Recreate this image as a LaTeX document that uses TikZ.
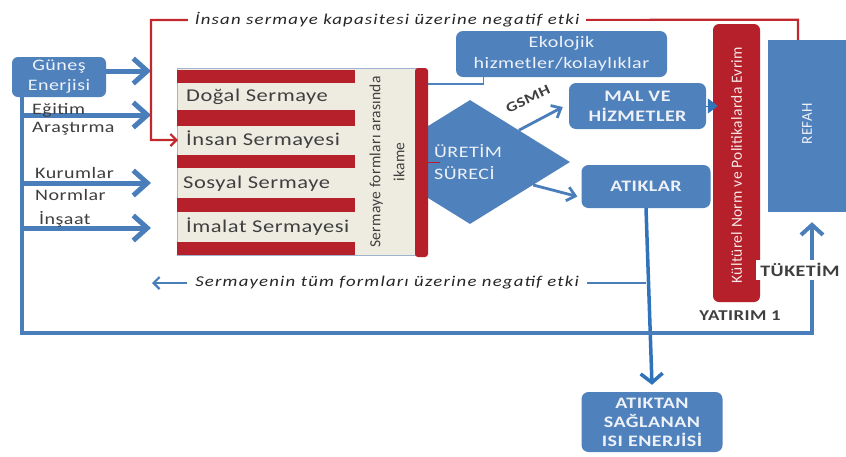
\documentclass[tikz,border=0pt]{standalone}
\usepackage{fontspec}
\setmainfont{Carlito}[FakeStretch=1.25,LetterSpace=3]
\newfontfamily\rotfont{Carlito}[LetterSpace=2]
\newfontfamily\notefont{Carlito}[FakeStretch=1.25,LetterSpace=8]
\usetikzlibrary{arrows.meta,shapes.geometric}
\definecolor{boxblue}{HTML}{4F81BD}
\definecolor{arrowblue}{HTML}{4A7EBB}
\definecolor{brightblue}{HTML}{2F74BB}
\definecolor{stackred}{HTML}{B5202A}
\definecolor{linered}{HTML}{C0282D}
\definecolor{beige}{HTML}{EEECE1}
\definecolor{stackborder}{HTML}{9FB3CF}
\definecolor{darktext}{HTML}{3F3F3F}
\definecolor{boxtext}{HTML}{EEF2F8}
\definecolor{kulturtext}{HTML}{F7E8E8}
\newcommand\fsz[2]{\fontsize{#1}{#2}\selectfont}
\begin{document}
\begin{tikzpicture}[x=1pt,y=-1pt,
  bluebox/.style={fill=boxblue, rounded corners=7pt, draw=none, text=boxtext, align=center, inner sep=0pt},
  lbl/.style={text=darktext, inner sep=0pt, anchor=west, font=\fsz{16}{19}},
  rowlbl/.style={text=darktext, inner sep=0pt, anchor=west, font=\fsz{18}{20}},
  bigarrow/.style={draw=arrowblue, line width=5pt, -{Straight Barb[length=14pt,width=25pt]}},
  loopline/.style={draw=arrowblue, line width=4pt, -{Straight Barb[length=10pt,width=22pt]}},
  redconn/.style={draw=linered, line width=2.2pt, -{Straight Barb[length=6pt,width=12pt]}},
  thinarrow/.style={draw=arrowblue, line width=2.2pt, -{Straight Barb[length=6pt,width=12pt]}},
  thinline/.style={draw=boxblue, line width=1.3pt},
  wastearrow/.style={draw=brightblue, line width=3.5pt, -{Straight Barb[length=9pt,width=22pt]}},
  midarrow/.style={draw=arrowblue, line width=2.8pt, -{Straight Barb[length=8pt,width=14pt]}}
]
\useasboundingbox (0,0) rectangle (846,456);
\fill[white] (0,0) rectangle (846,456);

% helper coordinates
\coordinate (rc) at (151,20);
\coordinate (bot) at (812,333);
\coordinate (e1) at (20,115);
\coordinate (e2) at (20,183);
\coordinate (e3) at (20,228);
\coordinate (negstart) at (646,283);
\coordinate (negend) at (152,283);

% production diamond
\node[diamond, fill=boxblue, minimum width=200pt, minimum height=124pt, inner sep=0pt] (uretim) at (470,162) {};

% capital stack
\node[draw=stackborder, fill=beige, line width=0.8pt, minimum width=241pt, minimum height=187pt, inner sep=0pt, anchor=north west] (stack) at (177,68) {};
\fill[stackred] (177,70) rectangle (355,83);
\fill[stackred] (177,110) rectangle (355,126);
\fill[stackred] (177,155) rectangle (355,168);
\fill[stackred] (177,198) rectangle (355,212);
\fill[stackred] (177,242) rectangle (355,255);
\node[fill=stackred, rounded corners=3pt, minimum width=13pt, minimum height=189pt, inner sep=0pt] (ikamebar) at (421.5,162.5) {};
\draw[draw=stackred, line width=1.5pt] (ikamebar.east) -- ++(12,0);

\node[rowlbl] (dogal) at (186,97) {Doğal Sermaye};
\node[rowlbl] (insan) at (186,140) {İnsan Sermayesi};
\node[rowlbl] (sosyal) at (183,184) {Sosyal Sermaye};
\node[rowlbl] (imalat) at (186,227) {İmalat Sermayesi};
\node[rotate=90, align=center, text=darktext, inner sep=0pt, font=\rotfont\fsz{15.5}{24}] (ikame) at (387,162) {Sermaye formları arasında\\ikame};

% boxes
\node[bluebox, minimum width=94pt, minimum height=40pt, rounded corners=6pt, font=\fsz{16}{20}] (gunes) at (59,77) {Güneş\\Enerjisi};
\node[bluebox, minimum width=211pt, minimum height=46pt, font=\fsz{16}{21}] (ekolojik) at (561.5,54) {Ekolojik\\hizmetler/kolaylıklar};
\node[bluebox, minimum width=137pt, minimum height=46pt, font=\bfseries\fsz{16}{20}] (mal) at (637.5,106) {MAL VE\\HİZMETLER};
\node[bluebox, minimum width=129pt, minimum height=43pt, font=\bfseries\fsz{16}{20}] (atiklar) at (646,186.5) {ATIKLAR};
\node[bluebox, minimum width=141pt, minimum height=60pt, font=\bfseries\fsz{16}{19}] (atiktan) at (652,422) {ATIKTAN\\SAĞLANAN\\ISI ENERJİSİ};
\node[fill=boxblue, draw=none, inner sep=0pt, minimum width=78pt, minimum height=172pt] (refah) at (807,126) {};
\node[rotate=90, text=boxtext, inner sep=0pt, font=\rotfont\fsz{15}{18}] (refahtext) at (807,124) {REFAH};

% production text
\node[align=left, text=boxtext, inner sep=0pt, font=\fsz{16}{22}] (uretimtext) at (468,162) {ÜRETİM\\SÜRECİ};
\node[rotate=25, text=darktext, inner sep=0pt, font=\bfseries\fsz{14}{16}] (gsmh) at (528,99) {GSMH};

% connectors from production
\draw[midarrow] (uretim.33) -- ([xshift=-6pt,yshift=-1pt]mal.west);
\draw[midarrow] (uretim.-20) -- ([xshift=-4pt,yshift=-10pt]atiklar.west);
\draw[thinline] ([xshift=-78pt]ekolojik.south) |- ([yshift=78.5pt]ikamebar.east);

% waste line
\draw[wastearrow] (atiklar.south) -- ([yshift=7pt]atiktan.north);

% cultural bar
\node[fill=stackred, draw=none, rounded corners=6pt, minimum width=47pt, minimum height=278pt, inner sep=0pt] (kultur) at (736.5,163) {};
\node[rotate=90, text=kulturtext, inner sep=0pt, font=\rotfont\fsz{15.5}{18}] (kulturtext) at (736.5,165) {Kültürel Norm ve Politikalarda Evrim};
\draw[draw=brightblue, line width=1pt, -{Triangle[length=10pt,width=15pt]}] (mal.east) -- ([xshift=5pt]kultur.west |- mal.east);

% loop line
\draw[loopline] ([xshift=10pt]gunes.south west) |- (bot) -- ([xshift=5pt,yshift=-10pt]refah.south);
\node[fill=white, text=darktext, inner xsep=4pt, inner ysep=3pt, font=\bfseries\fsz{16}{18}] (tuketim) at (800,270) {TÜKETİM};
\node[text=darktext, inner sep=0pt, font=\bfseries\fsz{15}{17}] (yatirim) at (740,316) {YATIRIM 1};

% input arrows
\draw[bigarrow] ([yshift=6pt]gunes.east) -- ([yshift=6pt]gunes.east -| rc);
\draw[bigarrow] (e1) -- (e1 -| rc);
\draw[bigarrow] (e2) -- (e2 -| rc);
\draw[bigarrow] (e3) -- (e3 -| rc);
\node[lbl] (egitim) at (32,110) {Eğitim};
\node[lbl] (arastirma) at (32,129) {Araştırma};
\node[lbl] (kurumlar) at (35,173) {Kurumlar};
\node[lbl] (normlar) at (35,195) {Normlar};
\node[lbl] (insaat) at (39,219) {İnşaat};

% red negative feedback
\draw[redconn] ([xshift=-9pt]refah.north) -- ++(0,-20) -- node[pos=0.635, fill=white, inner xsep=7pt, inner ysep=2pt, text=black!85, font=\notefont\itshape\fsz{15}{17}] (negtop) {İnsan sermaye kapasitesi üzerine negatif etki} (rc) |- ([xshift=-8pt]insan.west);

% blue negative feedback
\draw[thinarrow] (negstart) -- node[pos=0.524, fill=white, inner xsep=8pt, inner ysep=2pt, text=black!85, font=\notefont\itshape\fsz{15}{17}] (negbot) {Sermayenin tüm formları üzerine negatif etki} (negend);
\end{tikzpicture}
\end{document}
